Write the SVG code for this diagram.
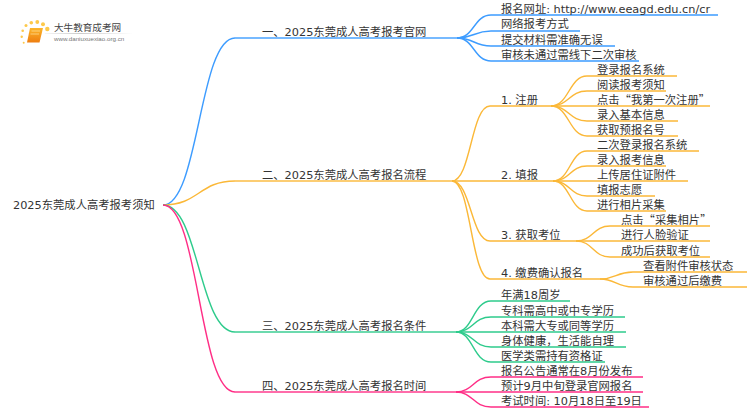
<svg xmlns="http://www.w3.org/2000/svg" width="750" height="410" viewBox="0 0 750 410">
<style>
text{font-family:"DejaVu Sans","Noto Sans CJK SC",sans-serif;font-size:11.3px;fill:#333}
.q{font-family:"Noto Sans CJK SC",sans-serif}
.c{fill:none;stroke-width:1.4}
.b{stroke:#3d9cff}.o{stroke:#fbb838}.g{stroke:#2ecb8c}.p{stroke:#ff2e86}
.h{fill:none;stroke-width:2;stroke-opacity:.7}
.logo1{font-family:"Noto Sans CJK SC",sans-serif;font-size:9.6px;fill:#444}
.logo2{font-family:"Liberation Sans",sans-serif;font-size:6.2px;fill:#777}
</style>
<defs>
<linearGradient id="fade" x1="0" x2="1" y1="0" y2="0"><stop offset="0" stop-color="#ccc" stop-opacity=".2"/><stop offset=".4" stop-color="#ccc"/><stop offset="1" stop-color="#ccc" stop-opacity="0"/></linearGradient>
<linearGradient id="bk" x1="0" x2="0" y1="0" y2="1"><stop offset="0" stop-color="#fcb62a"/><stop offset="1" stop-color="#ee7d10"/></linearGradient>
</defs>
<g id="logo">
<g fill="#fdc94a"><circle cx="23.7" cy="42.7" r="1"/><circle cx="21.7" cy="36.7" r="1.2"/><circle cx="22.7" cy="30.7" r="1.3"/><circle cx="26" cy="25.500" r="1.500"/><circle cx="31.300" cy="22.700" r="1.800"/><circle cx="37.300" cy="22" r="1.900"/><circle cx="43" cy="24.300" r="2"/><circle cx="47.300" cy="29" r="2.200"/></g>
<path d="M30 28H43L39.500 42.500H27Z" fill="url(#bk)"/>
<path d="M31.500 31H40M30.500 34H39" stroke="#ffe3a0" stroke-width=".7" fill="none"/>
<rect x="45" y="33" width="88" height="1" fill="url(#fade)"/>
<text class="logo1" x="54" y="31">大牛教育成考网</text>
<text class="logo2" x="54" y="41">www.daniuxuexiao.org.cn</text>
</g>
<g id="connectors">
<path class="c b" d="M163 205C199 205 199 38 235 38"/>
<path class="c o" d="M163 205C199 205 199 181 235 181"/>
<path class="c g" d="M163 205C199 205 199 332 235 332"/>
<path class="c p" d="M163 205C199 205 199 392 235 392"/>
<path class="h b" d="M235 38H457"/>
<path class="h o" d="M235 181H452"/>
<path class="h g" d="M235 332H456"/>
<path class="h p" d="M235 392H456"/>
<path class="c b" d="M457 38C474 38 474 15 491 15H718"/>
<path class="c b" d="M457 38C474 38 474 31 491 31H580"/>
<path class="c b" d="M457 38C474 38 474 46 491 46H615"/>
<path class="c b" d="M457 38C474 38 474 61 491 61H639"/>
<path class="c o" d="M452 181C471 181 471 106 490 106H551"/>
<path class="c o" d="M452 181H553"/>
<path class="c o" d="M452 181C471 181 471 241 490 241H576"/>
<path class="c o" d="M452 181C471 181 471 279 490 279H600"/>
<path class="c o" d="M551 106C569 106 569 76 587 76H677"/>
<path class="c o" d="M551 106C569 106 569 91 587 91H666"/>
<path class="c o" d="M551 106H710"/>
<path class="c o" d="M551 106C569 106 569 121 587 121H678"/>
<path class="c o" d="M551 106C569 106 569 136 587 136H678"/>
<path class="c o" d="M553 181C570 181 570 151 587 151H699"/>
<path class="c o" d="M553 181C570 181 570 166 587 166H666"/>
<path class="c o" d="M553 181H688"/>
<path class="c o" d="M553 181C570 181 570 196 587 196H655"/>
<path class="c o" d="M553 181C570 181 570 211 587 211H666"/>
<path class="c o" d="M576 241C593 241 593 226 610 226H710"/>
<path class="c o" d="M576 241H710"/>
<path class="c o" d="M576 241C593 241 593 257 610 257H710"/>
<path class="c o" d="M600 279C616 279 616 272 633 272H747"/>
<path class="c o" d="M600 279C616 279 616 287 633 287H747"/>
<path class="c g" d="M456 332C473 332 473 301 491 301H570"/>
<path class="c g" d="M456 332C473 332 473 317 491 317H625"/>
<path class="c g" d="M456 332H626"/>
<path class="c g" d="M456 332C473 332 473 347 491 347H626"/>
<path class="c g" d="M456 332C473 332 473 362 491 362H605"/>
<path class="c p" d="M456 392C473 392 473 377 491 377H643"/>
<path class="c p" d="M456 392H643"/>
<path class="c p" d="M456 392C473 392 473 407 491 407H649"/>
</g>
<g id="root"><text x="13" y="209">2025东莞成人高考报考须知</text></g>
<g id="n1"><text x="262" y="36">一、2025东莞成人高考报考官网</text></g>
<g id="n1-1"><text x="501" y="13">报名网址: http://www.eeagd.edu.cn/cr</text></g>
<g id="n1-2"><text x="501" y="28">网络报考方式</text></g>
<g id="n1-3"><text x="501" y="44">提交材料需准确无误</text></g>
<g id="n1-4"><text x="501" y="59">审核未通过需线下二次审核</text></g>
<g id="n2"><text x="262" y="179">二、2025东莞成人高考报名流程</text></g>
<g id="n2-1"><text x="501" y="104">1. 注册</text></g>
<g id="n2-1-1"><text x="597" y="74">登录报名系统</text></g>
<g id="n2-1-2"><text x="597" y="89">阅读报考须知</text></g>
<g id="n2-1-3"><text x="597" y="104">点击<tspan class="q">“</tspan>我第一次注册<tspan class="q">”</tspan></text></g>
<g id="n2-1-4"><text x="597" y="119">录入基本信息</text></g>
<g id="n2-1-5"><text x="597" y="134">获取预报名号</text></g>
<g id="n2-2"><text x="501" y="179">2. 填报</text></g>
<g id="n2-2-1"><text x="597" y="149">二次登录报名系统</text></g>
<g id="n2-2-2"><text x="597" y="164">录入报考信息</text></g>
<g id="n2-2-3"><text x="597" y="179">上传居住证附件</text></g>
<g id="n2-2-4"><text x="597" y="194">填报志愿</text></g>
<g id="n2-2-5"><text x="597" y="209">进行相片采集</text></g>
<g id="n2-3"><text x="501" y="239">3. 获取考位</text></g>
<g id="n2-3-1"><text x="621" y="224">点击<tspan class="q">“</tspan>采集相片<tspan class="q">”</tspan></text></g>
<g id="n2-3-2"><text x="621" y="239">进行人脸验证</text></g>
<g id="n2-3-3"><text x="621" y="255">成功后获取考位</text></g>
<g id="n2-4"><text x="501" y="277">4. 缴费确认报名</text></g>
<g id="n2-4-1"><text x="643" y="270">查看附件审核状态</text></g>
<g id="n2-4-2"><text x="643" y="285">审核通过后缴费</text></g>
<g id="n3"><text x="262" y="330">三、2025东莞成人高考报名条件</text></g>
<g id="n3-1"><text x="501" y="299">年满18周岁</text></g>
<g id="n3-2"><text x="501" y="315">专科需高中或中专学历</text></g>
<g id="n3-3"><text x="501" y="330">本科需大专或同等学历</text></g>
<g id="n3-4"><text x="501" y="345">身体健康，生活能自理</text></g>
<g id="n3-5"><text x="501" y="360">医学类需持有资格证</text></g>
<g id="n4"><text x="262" y="390">四、2025东莞成人高考报名时间</text></g>
<g id="n4-1"><text x="501" y="375">报名公告通常在8月份发布</text></g>
<g id="n4-2"><text x="501" y="390">预计9月中旬登录官网报名</text></g>
<g id="n4-3"><text x="501" y="405">考试时间: 10月18日至19日</text></g>
</svg>
